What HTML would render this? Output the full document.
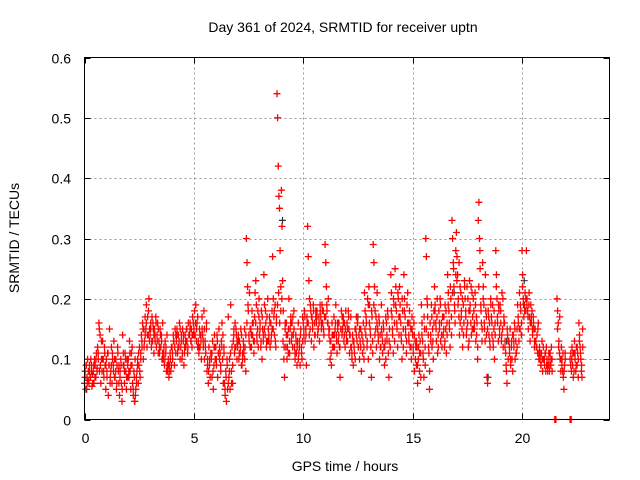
<!DOCTYPE html>
<html><head><meta charset="utf-8"><style>
body{margin:0;background:#fff;}
svg{display:block;font-family:"Liberation Sans",sans-serif;}
</style></head><body>
<svg id="chart" width="640" height="480" viewBox="0 0 640 480">
<rect width="640" height="480" fill="#fff"/>
<text x="343" y="32" font-size="14" text-anchor="middle">Day 361 of 2024, SRMTID for receiver uptn</text>
<text transform="translate(19,238) rotate(-90)" font-size="14" text-anchor="middle">SRMTID / TECUs</text>
<text x="345" y="471" font-size="14" text-anchor="middle">GPS time / hours</text>
<g id="grid"></g>
<g id="ticks"></g>
<g id="marks"></g>
<rect x="84.5" y="57.5" width="525" height="362" fill="none" stroke="#000" stroke-width="1"/>
</svg>
<script>
const xTicks=[0,5,10,15,20];
const yTicks=[0,0.1,0.2,0.3,0.4,0.5,0.6];
const yTickLabels=["0","0.1","0.2","0.3","0.4","0.5","0.6"];
const binStarts=[0,0.2,0.4,0.6,0.8,1.0,1.2,1.4,1.6,1.8,2.0,2.2,2.4,2.6,2.8,3.0,3.2,3.4,3.6,3.8,4.0,4.2,4.4,4.6,4.8,5.0,5.2,5.4,5.6,5.8,6.0,6.2,6.4,6.6,6.8,7.0,7.2,7.4,7.6,7.8,8.0,8.2,8.4,8.6,8.8,9.0,9.2,9.4,9.6,9.8,10.0,10.2,10.4,10.6,10.8,11.0,11.2,11.4,11.6,11.8,12.0,12.2,12.4,12.6,12.8,13.0,13.2,13.4,13.6,13.8,14.0,14.2,14.4,14.6,14.8,15.0,15.2,15.4,15.6,15.8,16.0,16.2,16.4,16.6,16.8,17.0,17.2,17.4,17.6,17.8,18.0,18.2,18.4,18.6,18.8,19.0,19.2,19.4,19.6,19.8,20.0,20.2,20.4,20.6,20.8,21.0,21.2,21.6,21.8,22.2,22.4,22.6];
const binValues=[
[0.06,0.08,0.05,0.09,0.07,0.10,0.065],[0.06,0.09,0.07,0.10,0.08,0.055,0.075],[0.08,0.06,0.10,0.09,0.07,0.11,0.085],[0.12,0.10,0.16,0.08,0.14,0.06,0.10],[0.08,0.13,0.10,0.07,0.12,0.09,0.05],[0.10,0.07,0.11,0.04,0.09,0.15,0.06],[0.08,0.12,0.06,0.10,0.09,0.13,0.07],[0.07,0.10,0.05,0.09,0.12,0.08,0.06],[0.04,0.08,0.10,0.06,0.03,0.14,0.09],[0.09,0.06,0.11,0.08,0.05,0.10,0.07],
[0.10,0.07,0.13,0.08,0.05,0.11,0.09],[0.06,0.04,0.08,0.03,0.10,0.05,0.07],[0.08,0.10,0.06,0.09,0.12,0.07,0.11],[0.14,0.12,0.16,0.10,0.15,0.13,0.17],[0.15,0.19,0.12,0.17,0.14,0.20,0.13],[0.14,0.16,0.12,0.17,0.13,0.15,0.11],[0.15,0.13,0.17,0.12,0.14,0.16,0.11],[0.13,0.11,0.15,0.12,0.14,0.10,0.16],[0.10,0.12,0.09,0.13,0.11,0.08,0.14],[0.08,0.10,0.07,0.09,0.11,0.08,0.12],
[0.12,0.10,0.14,0.13,0.09,0.15,0.11],[0.13,0.15,0.11,0.14,0.12,0.16,0.10],[0.12,0.14,0.10,0.15,0.13,0.09,0.11],[0.14,0.12,0.15,0.13,0.11,0.16,0.14],[0.14,0.16,0.13,0.15,0.12,0.17,0.14],[0.15,0.18,0.14,0.19,0.13,0.16,0.12],[0.13,0.11,0.15,0.12,0.14,0.10,0.17],[0.14,0.12,0.18,0.10,0.13,0.11,0.15],[0.08,0.10,0.06,0.12,0.09,0.07,0.11],[0.10,0.07,0.13,0.05,0.09,0.14,0.12],
[0.12,0.09,0.14,0.07,0.11,0.15,0.10],[0.11,0.08,0.13,0.16,0.10,0.06,0.12],[0.06,0.04,0.08,0.03,0.10,0.05,0.17],[0.07,0.10,0.05,0.19,0.08,0.12,0.06],[0.13,0.15,0.11,0.16,0.12,0.14,0.10],[0.12,0.14,0.10,0.13,0.11,0.15,0.09],[0.09,0.10,0.13,0.11,0.15,0.12,0.08],[0.30,0.26,0.22,0.18,0.14,0.21,0.12],[0.15,0.12,0.18,0.14,0.16,0.11,0.13],[0.21,0.23,0.19,0.13,0.15,0.12,0.17],
[0.14,0.16,0.12,0.18,0.10,0.15,0.13],[0.24,0.19,0.14,0.16,0.12,0.17,0.13],[0.15,0.13,0.17,0.12,0.16,0.14,0.18],[0.27,0.20,0.17,0.14,0.19,0.12,0.16],[0.54,0.50,0.42,0.37,0.35,0.28,0.22],[0.38,0.32,0.23,0.18,0.10,0.07,0.15],[0.12,0.16,0.10,0.14,0.11,0.20,0.13],[0.15,0.17,0.13,0.16,0.12,0.14,0.18],[0.12,0.10,0.14,0.11,0.09,0.13,0.16],[0.11,0.13,0.09,0.15,0.12,0.10,0.17],
[0.16,0.14,0.18,0.13,0.15,0.09,0.17],[0.32,0.27,0.23,0.20,0.15,0.18,0.13],[0.17,0.15,0.19,0.12,0.16,0.14,0.18],[0.16,0.18,0.14,0.15,0.17,0.13,0.19],[0.17,0.15,0.19,0.16,0.18,0.14,0.17],[0.29,0.26,0.22,0.18,0.16,0.20,0.15],[0.15,0.10,0.13,0.09,0.16,0.12,0.14],[0.17,0.12,0.15,0.19,0.14,0.11,0.16],[0.13,0.16,0.12,0.07,0.15,0.18,0.14],[0.15,0.17,0.13,0.16,0.12,0.18,0.14],
[0.16,0.13,0.18,0.15,0.11,0.14,0.17],[0.12,0.10,0.14,0.09,0.13,0.11,0.15],[0.15,0.17,0.13,0.16,0.12,0.14,0.10],[0.13,0.15,0.08,0.14,0.11,0.16,0.12],[0.21,0.18,0.14,0.16,0.12,0.20,0.10],[0.22,0.19,0.15,0.12,0.07,0.17,0.13],[0.29,0.26,0.22,0.18,0.15,0.12,0.16],[0.15,0.13,0.17,0.10,0.14,0.12,0.19],[0.14,0.11,0.16,0.12,0.09,0.13,0.17],[0.16,0.13,0.18,0.11,0.07,0.15,0.12],
[0.24,0.21,0.17,0.14,0.11,0.19,0.16],[0.25,0.22,0.18,0.15,0.12,0.20,0.17],[0.22,0.19,0.16,0.13,0.10,0.18,0.15],[0.24,0.20,0.17,0.14,0.11,0.19,0.16],[0.16,0.13,0.18,0.12,0.15,0.10,0.17],[0.14,0.11,0.16,0.08,0.13,0.12,0.09],[0.12,0.06,0.10,0.14,0.08,0.13,0.11],[0.19,0.16,0.13,0.10,0.07,0.15,0.12],[0.30,0.27,0.20,0.17,0.14,0.11,0.05],[0.16,0.13,0.19,0.12,0.15,0.10,0.18],
[0.22,0.19,0.16,0.13,0.17,0.11,0.14],[0.18,0.15,0.20,0.13,0.16,0.12,0.17],[0.14,0.17,0.12,0.19,0.15,0.11,0.16],[0.24,0.21,0.18,0.15,0.12,0.20,0.17],[0.33,0.30,0.26,0.22,0.19,0.16,0.24],[0.31,0.27,0.24,0.20,0.17,0.14,0.22],[0.21,0.18,0.15,0.12,0.19,0.16,0.23],[0.20,0.17,0.14,0.22,0.16,0.12,0.18],[0.23,0.19,0.16,0.14,0.21,0.17,0.15],[0.18,0.15,0.21,0.13,0.17,0.16,0.10],
[0.33,0.36,0.30,0.25,0.19,0.16,0.13],[0.26,0.22,0.19,0.15,0.13,0.18,0.17],[0.07,0.06,0.18,0.14,0.16,0.12,0.20],[0.17,0.14,0.19,0.12,0.15,0.10,0.16],[0.28,0.24,0.20,0.16,0.13,0.18,0.15],[0.19,0.16,0.13,0.21,0.15,0.12,0.17],[0.16,0.13,0.11,0.08,0.06,0.14,0.10],[0.13,0.11,0.15,0.09,0.12,0.10,0.14],[0.14,0.12,0.16,0.10,0.13,0.11,0.15],[0.19,0.16,0.13,0.21,0.15,0.18,0.14],
[0.28,0.24,0.20,0.17,0.19,0.21,0.18],[0.28,0.20,0.18,0.15,0.19,0.17,0.13],[0.19,0.16,0.18,0.14,0.17,0.15,0.12],[0.15,0.13,0.12,0.14,0.11,0.16,0.10],[0.12,0.10,0.09,0.11,0.13,0.08,0.10],[0.10,0.09,0.11,0.08,0.12,0.10,0.09],[0.09,0.10,0.08,0.11,0.09,0.12,0.10],[0.20,0.18,0.16,0.13,0.11,0.10,0.08],[0.12,0.10,0.08,0.07,0.05,0.09,0.11],[0.10,0.11,0.08,0.12,0.09,0.07,0.11],
[0.13,0.10,0.08,0.12,0.09,0.11,0.07],[0.16,0.14,0.12,0.10,0.08,0.07,0.15]
];
const binValues2=[
[0.07,0.09,0.06,0.08],[0.08,0.07,0.09,0.06],[0.09,0.07,0.10,0.08],[0.11,0.15,0.09,0.13],[0.10,0.08,0.11,0.09],[0.08,0.11,0.09,0.07],[0.09,0.11,0.08,0.10],[0.08,0.06,0.11,0.09],[0.07,0.09,0.05,0.11],[0.08,0.10,0.07,0.09],
[0.08,0.11,0.09,0.12],[0.05,0.07,0.04,0.06],[0.09,0.11,0.08,0.10],[0.13,0.15,0.12,0.14],[0.16,0.14,0.18,0.15],[0.15,0.13,0.16,0.14],[0.14,0.16,0.13,0.15],[0.12,0.14,0.13,0.11],[0.11,0.10,0.12,0.09],[0.09,0.08,0.10,0.09],
[0.11,0.13,0.12,0.14],[0.14,0.12,0.13,0.15],[0.13,0.11,0.14,0.12],[0.13,0.15,0.12,0.14],[0.15,0.13,0.14,0.16],[0.14,0.16,0.15,0.17],[0.12,0.14,0.13,0.15],[0.13,0.15,0.12,0.16],[0.09,0.08,0.10,0.11],[0.11,0.08,0.12,0.10],
[0.10,0.13,0.11,0.12],[0.09,0.12,0.14,0.11],[0.05,0.07,0.09,0.06],[0.08,0.11,0.06,0.09],[0.14,0.12,0.15,0.13],[0.13,0.11,0.12,0.14],[0.11,0.12,0.10,0.14],[0.16,0.19,0.13,0.15],[0.14,0.16,0.13,0.17],[0.16,0.14,0.18,0.20],
[0.15,0.13,0.17,0.14],[0.15,0.18,0.13,0.20],[0.14,0.16,0.13,0.15],[0.15,0.18,0.13,0.17],[0.19,0.21,0.16,0.18],[0.20,0.13,0.12,0.16],[0.14,0.12,0.15,0.11],[0.16,0.14,0.17,0.15],[0.11,0.13,0.12,0.10],[0.12,0.14,0.11,0.13],
[0.15,0.17,0.14,0.16],[0.16,0.14,0.19,0.17],[0.16,0.18,0.14,0.17],[0.17,0.15,0.16,0.18],[0.16,0.18,0.15,0.17],[0.17,0.19,0.16,0.14],[0.13,0.11,0.14,0.12],[0.14,0.16,0.13,0.15],[0.14,0.12,0.15,0.17],[0.16,0.14,0.15,0.13],
[0.15,0.17,0.14,0.12],[0.11,0.13,0.12,0.10],[0.14,0.16,0.12,0.15],[0.12,0.14,0.13,0.10],[0.15,0.17,0.13,0.19],[0.16,0.14,0.18,0.11],[0.19,0.14,0.17,0.21],[0.14,0.16,0.12,0.15],[0.13,0.15,0.12,0.10],[0.14,0.17,0.13,0.12],
[0.18,0.15,0.20,0.13],[0.19,0.16,0.21,0.14],[0.17,0.14,0.20,0.12],[0.18,0.15,0.13,0.21],[0.14,0.16,0.12,0.15],[0.12,0.14,0.10,0.13],[0.09,0.12,0.11,0.07],[0.14,0.11,0.17,0.09],[0.15,0.19,0.12,0.08],[0.14,0.17,0.13,0.16],
[0.18,0.15,0.20,0.12],[0.16,0.19,0.14,0.17],[0.15,0.13,0.18,0.14],[0.19,0.16,0.22,0.14],[0.21,0.25,0.18,0.28],[0.23,0.19,0.26,0.16],[0.17,0.20,0.14,0.22],[0.18,0.15,0.20,0.13],[0.18,0.22,0.15,0.20],[0.16,0.19,0.14,0.12],
[0.22,0.28,0.18,0.15],[0.20,0.16,0.24,0.14],[0.15,0.17,0.13,0.19],[0.16,0.13,0.18,0.14],[0.22,0.17,0.19,0.14],[0.18,0.14,0.20,0.16],[0.12,0.09,0.15,0.13],[0.12,0.10,0.13,0.08],[0.13,0.15,0.11,0.12],[0.17,0.15,0.19,0.16],
[0.22,0.19,0.18,0.20],[0.19,0.17,0.21,0.16],[0.17,0.15,0.16,0.13],[0.13,0.12,0.15,0.11],[0.11,0.09,0.10,0.12],[0.10,0.11,0.09,0.08],[0.11,0.09,0.10,0.08],[0.15,0.12,0.17,0.10],[0.09,0.11,0.08,0.10],[0.09,0.10,0.11,0.08],
[0.11,0.09,0.12,0.10],[0.13,0.11,0.09,0.12]
];
const zeroHours=[21.5,21.55,22.2,22.25];
const darkHours=[0.1,2.3,9.05,12.5,16.9,18.45,19.3,20.1];
const darkValues=[0.05,0.03,0.33,0.17,0.21,0.07,0.13,0.23];

const X0=84.5,X1=609.5,Y0=419.5,Y1=57.5;
const xs=h=>X0+(h/24)*(X1-X0);
const ys=v=>Y0-(v/0.6)*(Y0-Y1);
const NS="http://www.w3.org/2000/svg";
function mk(tag,attrs,parent){const e=document.createElementNS(NS,tag);for(const k in attrs)e.setAttribute(k,attrs[k]);parent.appendChild(e);return e;}
const grid=document.getElementById('grid'),ticks=document.getElementById('ticks'),marks=document.getElementById('marks');
xTicks.forEach(t=>{
  const x=Math.round(xs(t))+0.5;
  if(t>0){const g=mk('line',{x1:x,x2:x,y1:Y1,y2:Y0,stroke:'#999','stroke-dasharray':'2,3'},grid);
  
  }
  mk('line',{x1:x,x2:x,y1:Y0,y2:Y0-6,stroke:'#000'},ticks);
  mk('line',{x1:x,x2:x,y1:Y1,y2:Y1+6,stroke:'#000'},ticks);
  const l=mk('text',{x:x,y:443,'font-size':14,'text-anchor':'middle'},ticks);l.textContent=String(t);
  
  
});
yTicks.forEach((t,i)=>{
  const y=Math.round(ys(t))+0.5;
  if(t>0&&t<0.6){const g=mk('line',{x1:X0,x2:X1,y1:y,y2:y,stroke:'#999','stroke-dasharray':'2,3'},grid);
  
  }
  mk('line',{x1:X0,x2:X0+6,y1:y,y2:y,stroke:'#000'},ticks);
  mk('line',{x1:X1,x2:X1-6,y1:y,y2:y,stroke:'#000'},ticks);
  const l=mk('text',{x:71,y:y+5,'font-size':14,'text-anchor':'end'},ticks);l.textContent=yTickLabels[i];
  
  
});
let d='';
const plus=(x,y)=>`M${(x-3.5).toFixed(1)} ${y.toFixed(1)}h7M${x.toFixed(1)} ${(y-3.5).toFixed(1)}v7`;
binStarts.forEach((b,i)=>{const vals=binValues[i];vals.forEach((v,j)=>{d+=plus(xs(b+j*0.2/vals.length),ys(v));});});
binStarts.forEach((b,i)=>{const vals=binValues2[i]||[];vals.forEach((v,j)=>{d+=plus(xs(b+0.025+j*0.2/vals.length),ys(v));});});
zeroHours.forEach(h=>{d+=plus(xs(h),ys(0));});
let dd='';
darkHours.forEach((h,i)=>{dd+=plus(xs(h),ys(darkValues[i]));});
const p2=mk('path',{d:dd,stroke:'#333',fill:'none','stroke-width':1.2},marks);


const p=mk('path',{d:d,stroke:'#f00',fill:'none','stroke-width':1.3},marks);


</script>
</body></html>
